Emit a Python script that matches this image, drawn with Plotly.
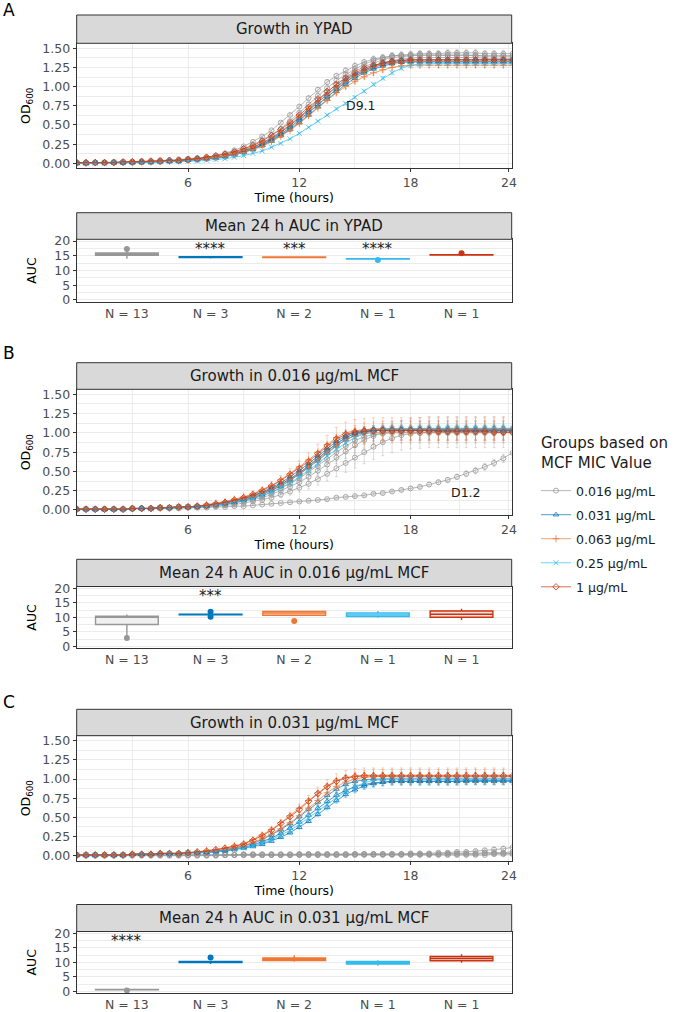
import plotly.graph_objects as go

W, H = 675, 1012

GROUPS = ["0.016 µg/mL", "0.031 µg/mL", "0.063 µg/mL", "0.25 µg/mL", "1 µg/mL"]
COLORS = ["#979797", "#0077BB", "#EE7733", "#33BBEE", "#CC3311"]
SYMBOLS = ["circle-open", "triangle-up-open", "cross-thin-open", "x-thin-open", "diamond-open"]
N_LABELS = ["N = 13", "N = 3", "N = 2", "N = 1", "N = 1"]
LEGEND_TITLE = "Groups based on<br>MCF MIC Value"

TIME = [0, 0.5, 1, 1.5, 2, 2.5, 3, 3.5, 4, 4.5, 5, 5.5, 6, 6.5, 7, 7.5, 8, 8.5, 9, 9.5,
        10, 10.5, 11, 11.5, 12, 12.5, 13, 13.5, 14, 14.5, 15, 15.5, 16, 16.5, 17, 17.5,
        18, 18.5, 19, 19.5, 20, 20.5, 21, 21.5, 22, 22.5, 23, 23.5]
X_TICKS = [6, 12, 18, 23.3]
X_TICKTEXT = ["6", "12", "18", "24"]

# ---------------- Panel A: YPAD growth ----------------
A_g1 = [0.01, 0.01, 0.01, 0.01, 0.01, 0.01, 0.02, 0.02, 0.02, 0.03, 0.03, 0.04, 0.05,
        0.06, 0.07, 0.09, 0.12, 0.15, 0.19, 0.24, 0.30, 0.37, 0.45, 0.55, 0.66, 0.77, 0.88, 0.98, 1.08, 1.16, 1.23, 1.29, 1.34, 1.37, 1.40, 1.41, 1.42,
        1.43, 1.43, 1.43, 1.44, 1.44, 1.44, 1.44, 1.43, 1.43, 1.43, 1.43]
A_g2 = [0.01, 0.01, 0.01, 0.01, 0.01, 0.01, 0.02, 0.02, 0.02, 0.03, 0.03, 0.04, 0.05,
        0.06, 0.07, 0.08, 0.10, 0.13, 0.17, 0.21, 0.27, 0.33, 0.41, 0.50, 0.60, 0.71, 0.82, 0.93, 1.03, 1.12, 1.20, 1.26, 1.31, 1.35, 1.38, 1.39, 1.40,
        1.41, 1.41, 1.41, 1.41, 1.41, 1.41, 1.40, 1.40, 1.40, 1.40, 1.40]
A_g3 = [0.00, 0.00, 0.01, 0.01, 0.01, 0.01, 0.01, 0.02, 0.02, 0.02, 0.03, 0.03, 0.04,
        0.05, 0.06, 0.08, 0.09, 0.12, 0.15, 0.19, 0.24, 0.30, 0.37, 0.45, 0.55, 0.65, 0.76, 0.87, 0.97, 1.06, 1.14, 1.21, 1.27, 1.31, 1.34, 1.36, 1.37,
        1.38, 1.38, 1.38, 1.38, 1.38, 1.38, 1.38, 1.37, 1.37, 1.37, 1.37]
A_g4 = [0.01, 0.01, 0.01, 0.01, 0.02, 0.02, 0.02, 0.03, 0.03, 0.04, 0.04, 0.05, 0.06,
        0.07, 0.08, 0.10, 0.13, 0.17, 0.22, 0.28, 0.35, 0.43, 0.53, 0.63, 0.74, 0.85, 0.96, 1.06, 1.14, 1.21, 1.27, 1.32, 1.36, 1.38, 1.40, 1.41, 1.41,
        1.41, 1.41, 1.41, 1.41, 1.41, 1.41, 1.41, 1.40, 1.40, 1.40, 1.40]
A_b1 = [0.00, 0.00, 0.01, 0.01, 0.01, 0.01, 0.01, 0.02, 0.02, 0.02, 0.03, 0.03, 0.04,
        0.05, 0.06, 0.07, 0.09, 0.11, 0.14, 0.18, 0.23, 0.29, 0.36, 0.44, 0.53, 0.63, 0.74, 0.84, 0.94, 1.03, 1.11, 1.18, 1.23, 1.27, 1.30, 1.32, 1.33,
        1.33, 1.33, 1.33, 1.33, 1.33, 1.33, 1.33, 1.33, 1.33, 1.33, 1.33]
A_b2 = [0.01, 0.01, 0.01, 0.01, 0.01, 0.01, 0.02, 0.02, 0.02, 0.03, 0.03, 0.04, 0.05,
        0.06, 0.07, 0.08, 0.10, 0.13, 0.16, 0.20, 0.26, 0.32, 0.40, 0.49, 0.59, 0.69, 0.80, 0.90, 1.00, 1.09, 1.16, 1.22, 1.27, 1.31, 1.33, 1.34, 1.35,
        1.35, 1.35, 1.35, 1.35, 1.35, 1.35, 1.35, 1.35, 1.35, 1.35, 1.35]
A_b3 = [0.00, 0.00, 0.01, 0.01, 0.01, 0.01, 0.01, 0.02, 0.02, 0.02, 0.03, 0.03, 0.04,
        0.05, 0.06, 0.07, 0.09, 0.12, 0.15, 0.19, 0.24, 0.31, 0.38, 0.47, 0.57, 0.67, 0.77, 0.87, 0.97, 1.06, 1.14, 1.20, 1.25, 1.29, 1.31, 1.32, 1.32,
        1.32, 1.32, 1.32, 1.32, 1.32, 1.32, 1.32, 1.32, 1.32, 1.32, 1.32]
A_o1 = [0.00, 0.00, 0.01, 0.01, 0.01, 0.01, 0.01, 0.02, 0.02, 0.02, 0.03, 0.03, 0.04,
        0.05, 0.06, 0.07, 0.09, 0.11, 0.14, 0.18, 0.22, 0.28, 0.35, 0.43, 0.52, 0.62, 0.72, 0.82, 0.92, 1.00, 1.07, 1.13, 1.18, 1.22, 1.25, 1.27, 1.28,
        1.28, 1.28, 1.28, 1.28, 1.28, 1.28, 1.28, 1.28, 1.28, 1.28, 1.28]
A_o2 = [0.01, 0.01, 0.01, 0.01, 0.01, 0.01, 0.02, 0.02, 0.02, 0.03, 0.03, 0.04, 0.05,
        0.06, 0.07, 0.08, 0.10, 0.13, 0.17, 0.21, 0.27, 0.33, 0.41, 0.50, 0.60, 0.70, 0.80, 0.90, 0.99, 1.07, 1.14, 1.20, 1.25, 1.29, 1.31, 1.32, 1.33,
        1.33, 1.33, 1.33, 1.33, 1.33, 1.33, 1.33, 1.33, 1.33, 1.33, 1.33]
A_lb = [0.00, 0.00, 0.00, 0.00, 0.01, 0.01, 0.01, 0.01, 0.01, 0.02, 0.02, 0.02, 0.03,
        0.03, 0.04, 0.05, 0.06, 0.08, 0.10, 0.13, 0.16, 0.21, 0.26, 0.32, 0.39, 0.47, 0.55, 0.63, 0.71, 0.78, 0.86, 0.94, 1.03, 1.11, 1.18, 1.24, 1.28,
        1.29, 1.30, 1.30, 1.30, 1.30, 1.30, 1.30, 1.30, 1.30, 1.30, 1.30]
A_r = [0.01, 0.01, 0.01, 0.01, 0.01, 0.02, 0.02, 0.02, 0.03, 0.03, 0.04, 0.04, 0.05,
       0.06, 0.08, 0.10, 0.12, 0.15, 0.19, 0.23, 0.29, 0.36, 0.44, 0.53, 0.63, 0.73, 0.84, 0.94, 1.03, 1.11, 1.18, 1.24, 1.28, 1.31, 1.33, 1.34, 1.35,
       1.35, 1.35, 1.35, 1.35, 1.35, 1.35, 1.35, 1.35, 1.35, 1.35, 1.35]

# ---------------- Panel B: 0.016 ug/mL MCF growth ----------------
B_g1 = [0.01, 0.01, 0.01, 0.01, 0.01, 0.01, 0.02, 0.02, 0.02, 0.03, 0.03, 0.04, 0.04,
        0.05, 0.06, 0.07, 0.09, 0.11, 0.14, 0.17, 0.21, 0.27, 0.33, 0.40, 0.48, 0.57, 0.67, 0.77, 0.86, 0.94, 0.99, 1.02, 1.04, 1.05, 1.05, 1.05, 1.05,
        1.05, 1.05, 1.05, 1.05, 1.05, 1.05, 1.05, 1.05, 1.05, 1.05, 1.05]
B_g2 = [0.01, 0.01, 0.01, 0.01, 0.01, 0.01, 0.02, 0.02, 0.02, 0.03, 0.03, 0.04, 0.04,
        0.04, 0.05, 0.06, 0.07, 0.09, 0.11, 0.13, 0.16, 0.20, 0.25, 0.30, 0.36, 0.43, 0.51, 0.59, 0.68, 0.76, 0.84, 0.91, 0.96, 1.00, 1.02, 1.03, 1.03,
        1.03, 1.03, 1.03, 1.03, 1.03, 1.03, 1.03, 1.03, 1.03, 1.03, 1.03]
B_g3 = [0.01, 0.01, 0.01, 0.01, 0.01, 0.01, 0.02, 0.02, 0.02, 0.03, 0.03, 0.03, 0.04,
        0.04, 0.04, 0.05, 0.06, 0.07, 0.09, 0.11, 0.13, 0.16, 0.20, 0.24, 0.29, 0.34, 0.40, 0.47, 0.54, 0.61, 0.68, 0.75, 0.82, 0.88, 0.93, 0.97, 0.99,
        1.00, 1.01, 1.01, 1.01, 1.01, 1.01, 1.01, 1.01, 1.01, 1.01, 1.01]
B_g4 = [0.01, 0.01, 0.01, 0.01, 0.01, 0.01, 0.02, 0.02, 0.02, 0.03, 0.03, 0.04, 0.04,
        0.04, 0.05, 0.06, 0.08, 0.10, 0.12, 0.15, 0.18, 0.23, 0.28, 0.34, 0.41, 0.49, 0.57, 0.66, 0.75, 0.83, 0.90, 0.95, 0.98, 0.99, 1.00, 1.00, 1.00,
        1.00, 1.00, 1.00, 1.00, 1.00, 1.00, 1.00, 1.00, 1.00, 1.00, 1.00]
B_d12 = [0.01, 0.01, 0.01, 0.01, 0.01, 0.01, 0.01, 0.02, 0.02, 0.02, 0.02, 0.02, 0.03,
         0.03, 0.03, 0.04, 0.04, 0.05, 0.05, 0.06, 0.07, 0.08, 0.09, 0.10, 0.11, 0.12, 0.13, 0.14, 0.16, 0.17, 0.18, 0.19, 0.21, 0.22, 0.24, 0.26, 0.28,
         0.30, 0.33, 0.36, 0.39, 0.43, 0.47, 0.51, 0.56, 0.61, 0.67, 0.74]
B_b1 = [0.01, 0.01, 0.01, 0.01, 0.01, 0.01, 0.02, 0.02, 0.02, 0.03, 0.03, 0.04, 0.04,
        0.05, 0.06, 0.08, 0.10, 0.12, 0.15, 0.19, 0.23, 0.29, 0.35, 0.43, 0.51, 0.60, 0.70, 0.80, 0.89, 0.96, 1.01, 1.04, 1.05, 1.05, 1.05, 1.05, 1.05,
        1.05, 1.05, 1.05, 1.05, 1.05, 1.05, 1.05, 1.05, 1.05, 1.05, 1.05]
B_b2 = [0.01, 0.01, 0.01, 0.01, 0.01, 0.01, 0.02, 0.02, 0.02, 0.03, 0.03, 0.04, 0.04,
        0.04, 0.05, 0.07, 0.08, 0.10, 0.13, 0.16, 0.20, 0.25, 0.31, 0.38, 0.46, 0.55, 0.64, 0.74, 0.83, 0.91, 0.97, 1.01, 1.03, 1.04, 1.04, 1.04, 1.04,
        1.04, 1.04, 1.04, 1.04, 1.04, 1.04, 1.04, 1.04, 1.04, 1.04, 1.04]
B_b3 = [0.01, 0.01, 0.01, 0.01, 0.01, 0.01, 0.02, 0.02, 0.02, 0.03, 0.03, 0.04, 0.04,
        0.05, 0.06, 0.07, 0.09, 0.12, 0.14, 0.18, 0.22, 0.27, 0.33, 0.40, 0.48, 0.57, 0.67, 0.77, 0.86, 0.94, 0.99, 1.02, 1.03, 1.03, 1.03, 1.03, 1.03,
        1.03, 1.03, 1.03, 1.03, 1.03, 1.03, 1.03, 1.03, 1.03, 1.03, 1.03]
B_o1 = [0.01, 0.01, 0.01, 0.01, 0.01, 0.01, 0.02, 0.02, 0.02, 0.03, 0.03, 0.04, 0.04,
        0.05, 0.07, 0.09, 0.11, 0.14, 0.17, 0.21, 0.26, 0.32, 0.39, 0.47, 0.56, 0.65, 0.75, 0.85, 0.94, 1.00, 1.03, 1.04, 1.05, 1.05, 1.05, 1.05, 1.05,
        1.05, 1.05, 1.05, 1.05, 1.05, 1.05, 1.05, 1.05, 1.05, 1.05, 1.05]
B_o2 = [0.01, 0.01, 0.01, 0.01, 0.01, 0.01, 0.02, 0.02, 0.02, 0.03, 0.03, 0.04, 0.04,
        0.05, 0.06, 0.07, 0.09, 0.11, 0.14, 0.17, 0.21, 0.26, 0.32, 0.39, 0.47, 0.56, 0.65, 0.75, 0.84, 0.91, 0.96, 0.99, 1.00, 1.01, 1.01, 1.01, 1.01,
        1.01, 1.01, 1.01, 1.01, 1.01, 1.01, 1.01, 1.01, 1.01, 1.01, 1.01]
B_lb = [0.01, 0.01, 0.01, 0.01, 0.01, 0.01, 0.02, 0.02, 0.02, 0.03, 0.03, 0.04, 0.04,
        0.04, 0.05, 0.06, 0.08, 0.10, 0.12, 0.15, 0.19, 0.23, 0.29, 0.35, 0.43, 0.51, 0.60, 0.70, 0.79, 0.87, 0.94, 0.99, 1.02, 1.04, 1.05, 1.05, 1.05,
        1.06, 1.06, 1.06, 1.06, 1.06, 1.06, 1.06, 1.06, 1.06, 1.06, 1.06]
B_r = [0.01, 0.01, 0.01, 0.01, 0.01, 0.01, 0.02, 0.02, 0.02, 0.03, 0.03, 0.04, 0.04,
       0.05, 0.06, 0.08, 0.10, 0.13, 0.16, 0.20, 0.25, 0.31, 0.38, 0.46, 0.54, 0.63, 0.73, 0.83, 0.92, 0.98, 1.01, 1.02, 1.03, 1.03, 1.03, 1.03, 1.03,
       1.03, 1.03, 1.02, 1.02, 1.02, 1.02, 1.02, 1.02, 1.01, 1.01, 1.01]

# ---------------- Panel C: 0.031 ug/mL MCF growth ----------------
C_g1 = [0.01, 0.01, 0.01, 0.01, 0.01, 0.01, 0.01, 0.01, 0.01, 0.01, 0.01, 0.01, 0.01,
        0.01, 0.01, 0.01, 0.01, 0.01, 0.02, 0.02, 0.02, 0.02, 0.02, 0.02, 0.02, 0.02, 0.02, 0.02, 0.02, 0.02, 0.02, 0.02, 0.02, 0.02, 0.02, 0.02, 0.02,
        0.02, 0.02, 0.02, 0.02, 0.02, 0.02, 0.02, 0.03, 0.03, 0.03, 0.03]
C_g2 = [0.00, 0.00, 0.00, 0.00, 0.00, 0.00, 0.00, 0.00, 0.00, 0.00, 0.00, 0.00, 0.00,
        0.00, 0.00, 0.00, 0.01, 0.01, 0.01, 0.01, 0.01, 0.01, 0.01, 0.01, 0.01, 0.01, 0.01, 0.01, 0.01, 0.01, 0.01, 0.01, 0.01, 0.01, 0.01, 0.01, 0.01,
        0.01, 0.01, 0.01, 0.01, 0.01, 0.01, 0.01, 0.01, 0.02, 0.02, 0.02]
C_g3 = [0.01, 0.01, 0.01, 0.01, 0.01, 0.01, 0.01, 0.01, 0.01, 0.01, 0.01, 0.01, 0.01,
        0.01, 0.01, 0.01, 0.01, 0.01, 0.01, 0.01, 0.01, 0.01, 0.01, 0.01, 0.01, 0.01, 0.01, 0.01, 0.01, 0.01, 0.02, 0.02, 0.02, 0.02, 0.02, 0.02, 0.03,
        0.03, 0.03, 0.04, 0.04, 0.05, 0.05, 0.06, 0.07, 0.08, 0.09, 0.11]
C_g4 = [0.01, 0.01, 0.01, 0.01, 0.01, 0.01, 0.01, 0.01, 0.01, 0.01, 0.01, 0.01, 0.01,
        0.01, 0.01, 0.01, 0.01, 0.01, 0.01, 0.01, 0.01, 0.01, 0.01, 0.01, 0.02, 0.02, 0.02, 0.02, 0.02, 0.02, 0.02, 0.02, 0.02, 0.02, 0.02, 0.02, 0.02,
        0.02, 0.02, 0.02, 0.03, 0.03, 0.03, 0.03, 0.04, 0.04, 0.04, 0.05]
C_b1 = [0.01, 0.01, 0.01, 0.01, 0.01, 0.01, 0.02, 0.02, 0.02, 0.03, 0.03, 0.03, 0.04,
        0.04, 0.05, 0.06, 0.07, 0.09, 0.11, 0.14, 0.18, 0.23, 0.29, 0.36, 0.44, 0.53, 0.62, 0.71, 0.79, 0.85, 0.90, 0.93, 0.95, 0.96, 0.97, 0.97, 0.97,
        0.97, 0.97, 0.97, 0.97, 0.97, 0.98, 0.98, 0.98, 0.98, 0.98, 0.98]
C_b2 = [0.01, 0.01, 0.01, 0.01, 0.01, 0.01, 0.02, 0.02, 0.02, 0.03, 0.03, 0.03, 0.04,
        0.04, 0.05, 0.06, 0.08, 0.10, 0.13, 0.16, 0.21, 0.27, 0.34, 0.42, 0.51, 0.61, 0.70, 0.79, 0.87, 0.93, 0.97, 0.99, 1.00, 1.00, 1.00, 1.00, 1.00,
        1.00, 1.00, 1.00, 1.00, 1.00, 1.00, 1.00, 1.00, 1.00, 1.00, 1.00]
C_b3 = [0.01, 0.01, 0.01, 0.01, 0.01, 0.01, 0.02, 0.02, 0.02, 0.03, 0.03, 0.03, 0.04,
        0.04, 0.04, 0.05, 0.06, 0.08, 0.10, 0.12, 0.15, 0.19, 0.24, 0.30, 0.37, 0.45, 0.54, 0.63, 0.72, 0.80, 0.86, 0.91, 0.94, 0.96, 0.97, 0.97, 0.97,
        0.97, 0.97, 0.97, 0.97, 0.97, 0.97, 0.97, 0.97, 0.97, 0.97, 0.97]
C_o1 = [0.01, 0.01, 0.01, 0.01, 0.01, 0.01, 0.02, 0.02, 0.02, 0.03, 0.03, 0.03, 0.04,
        0.05, 0.07, 0.08, 0.10, 0.13, 0.16, 0.21, 0.27, 0.34, 0.43, 0.52, 0.62, 0.72, 0.82, 0.91, 0.98, 1.02, 1.04, 1.05, 1.05, 1.05, 1.05, 1.05, 1.05,
        1.05, 1.05, 1.05, 1.05, 1.05, 1.05, 1.05, 1.05, 1.05, 1.05, 1.05]
C_o2 = [0.01, 0.01, 0.01, 0.01, 0.01, 0.01, 0.02, 0.02, 0.02, 0.03, 0.03, 0.03, 0.04,
        0.04, 0.05, 0.07, 0.08, 0.10, 0.13, 0.17, 0.22, 0.28, 0.35, 0.43, 0.52, 0.62, 0.72, 0.82, 0.90, 0.96, 1.00, 1.02, 1.03, 1.03, 1.03, 1.03, 1.03,
        1.03, 1.03, 1.03, 1.03, 1.03, 1.03, 1.03, 1.03, 1.03, 1.03, 1.03]
C_lb = [0.01, 0.01, 0.01, 0.01, 0.01, 0.01, 0.02, 0.02, 0.02, 0.03, 0.03, 0.03, 0.04,
        0.04, 0.04, 0.05, 0.07, 0.08, 0.10, 0.13, 0.17, 0.21, 0.27, 0.33, 0.41, 0.49, 0.58, 0.67, 0.76, 0.84, 0.90, 0.95, 0.98, 1.00, 1.01, 1.01, 1.01,
        1.01, 1.01, 1.01, 1.01, 1.01, 1.01, 1.01, 1.01, 1.01, 1.01, 1.01]
C_r = [0.01, 0.01, 0.01, 0.01, 0.01, 0.01, 0.02, 0.02, 0.02, 0.03, 0.03, 0.03, 0.04,
       0.05, 0.06, 0.08, 0.10, 0.12, 0.15, 0.20, 0.26, 0.33, 0.42, 0.51, 0.60, 0.71, 0.81, 0.90, 0.97, 1.01, 1.03, 1.04, 1.04, 1.04, 1.04, 1.04, 1.04,
       1.04, 1.04, 1.04, 1.04, 1.04, 1.04, 1.04, 1.04, 1.04, 1.04, 1.04]

# error bar size (SD, % of OD) per curve
ERR_A = [3, 3, 3, 3, 2, 2, 2, 2.5, 2.5, 2, 2]
ERR_B = [5, 12, 20, 9, 8, 4, 4, 4, 14, 14, 5, 4]
ERR_C = [40, 40, 40, 40, 5, 5, 5, 9, 9, 8, 4]

# ---------------- AUC values (per replicate) ----------------
AUC_A = [
    [14.0, 14.3, 14.7, 15.3, 15.4, 15.5, 15.5, 15.6, 15.6, 15.7, 16.6, 17.0, 17.3],
    [14.1, 14.4, 14.5, 14.6, 14.7, 14.8],
    [14.3, 14.4, 14.5, 14.6, 14.7, 14.5],
    [13.9, 13.95, 14.0, 14.0, 14.05, 14.1, 13.6],
    [15.2, 15.25, 15.3, 15.3, 15.35, 15.4, 15.9],
]
AUC_B = [
    [2.9, 3.5, 7.1, 7.7, 8.5, 9.5, 10.0, 10.2, 10.3, 10.4, 10.5, 10.6, 11.0],
    [10.9, 11.0, 11.0, 11.1, 11.0, 11.9, 10.2],
    [10.6, 10.9, 11.3, 11.6, 11.9, 12.1, 12.3, 8.8],
    [9.9, 10.2, 10.5, 10.8, 11.3, 11.6, 12.2],
    [9.1, 9.8, 10.3, 10.9, 11.3, 11.9, 12.5, 13.0],
]
AUC_C = [
    [0.3, 0.4, 0.5, 0.5, 0.5, 0.6, 0.6, 0.6, 0.7, 0.7, 0.8, 0.5, 0.6],
    [9.4, 9.9, 10.0, 10.1, 10.2, 10.3, 11.6],
    [10.2, 10.5, 10.8, 11.0, 11.3, 11.5, 12.4],
    [8.8, 9.4, 9.7, 10.0, 10.3, 10.7],
    [9.8, 10.4, 10.9, 11.3, 11.7, 12.1, 12.8],
]
STARS_A = ["", "****", "***", "****", ""]
STARS_B = ["", "***", "", "", ""]
STARS_C = ["****", "", "", "", ""]

CURVES_A = [(0, A_g1), (0, A_g2), (0, A_g3), (0, A_g4), (1, A_b1), (1, A_b2), (1, A_b3),
            (2, A_o1), (2, A_o2), (3, A_lb), (4, A_r)]
CURVES_B = [(0, B_g1), (0, B_g2), (0, B_g3), (0, B_g4), (0, B_d12), (1, B_b1), (1, B_b2), (1, B_b3),
            (2, B_o1), (2, B_o2), (3, B_lb), (4, B_r)]
CURVES_C = [(0, C_g1), (0, C_g2), (0, C_g3), (0, C_g4), (1, C_b1), (1, C_b2), (1, C_b3),
            (2, C_o1), (2, C_o2), (3, C_lb), (4, C_r)]

FONT = "DejaVu Sans"
GRID = "#EBEBEB"
FRAME = "#333333"
TICKCOL = "#4D4D4D"


def rgba(hexc, a):
    h = hexc.lstrip("#")
    return "rgba(%d,%d,%d,%.2f)" % (int(h[0:2], 16), int(h[2:4], 16), int(h[4:6], 16), a)


def xdom(p0, p1):
    return [p0 / W, p1 / W]


def ydom(top, bottom):
    return [1 - bottom / H, 1 - top / H]


fig = go.Figure()

X_L, X_R = 76.7, 511.7
PANELS = [
    ("A", CURVES_A, ERR_A, AUC_A, STARS_A, (15.0, 43.3), (212.7, 239.3), (43.3, 168.3), (239.3, 301.7),
     "Growth in YPAD", "Mean 24 h AUC in YPAD", 10.5),
    ("B", CURVES_B, ERR_B, AUC_B, STARS_B, (362.7, 389.3), (559.3, 586.5), (389.3, 515.0), (586.5, 648.3),
     "Growth in 0.016 µg/mL MCF", "Mean 24 h AUC in 0.016 µg/mL MCF", 353),
    ("C", CURVES_C, ERR_C, AUC_C, STARS_C, (709.3, 735.7), (904.5, 931.5), (735.7, 860.7), (931.5, 993.0),
     "Growth in 0.031 µg/mL MCF", "Mean 24 h AUC in 0.031 µg/mL MCF", 702),
]

shapes = []
annotations = []
layout_axes = {}

for pi, (letter, curves, errs, auc, stars, sg, sa, gd, ad, tg, ta, ly) in enumerate(PANELS):
    gx = 2 * pi + 1
    ax = 2 * pi + 2
    gxn = "x" if gx == 1 else "x%d" % gx
    gyn = "y" if gx == 1 else "y%d" % gx
    axn = "x%d" % ax
    ayn = "y%d" % ax

    seen = set()
    for ci, (gi, vals) in enumerate(curves):
        c = COLORS[gi]
        fig.add_trace(go.Scatter(
            x=TIME, y=vals, mode="lines+markers", name=GROUPS[gi], legendgroup=GROUPS[gi],
            showlegend=(pi == 0 and gi not in seen),
            line=dict(color=c, width=0.7),
            marker=dict(symbol=SYMBOLS[gi], size=5, color=c, line=dict(width=0.8, color=c)),
            error_y=dict(type="percent", value=errs[ci], color=rgba(c, 0.45), thickness=0.7, width=1.5),
            xaxis=gxn, yaxis=gyn, hoverinfo="skip"))
        seen.add(gi)

    for gi, vals in enumerate(auc):
        c = COLORS[gi]
        fig.add_trace(go.Box(
            y=vals, x0=gi, width=0.75, line=dict(color=c, width=1.4), fillcolor=rgba(c, 0.15),
            boxpoints="outliers", marker=dict(color=c, size=6), whiskerwidth=0,
            xaxis=axn, yaxis=ayn, showlegend=False, hoverinfo="skip"))
        if stars[gi]:
            annotations.append(dict(x=gi, y=17.2, xref=axn, yref=ayn, text=stars[gi], showarrow=False,
                                    font=dict(family=FONT, size=15, color="#222222"), yanchor="middle"))

    common_tick = dict(ticks="outside", ticklen=3, tickcolor=FRAME, tickwidth=1,
                       tickfont=dict(family=FONT, size=12.5, color=TICKCOL),
                       showline=True, mirror=True, linecolor=FRAME, linewidth=1, zeroline=False,
                       automargin=False)
    auc_x_tick = dict(common_tick)
    auc_x_tick["ticks"] = ""

    layout_axes["xaxis" if gx == 1 else "xaxis%d" % gx] = dict(
        domain=xdom(X_L, X_R), anchor=gyn, range=[0, 23.45],
        tickmode="array", tickvals=X_TICKS, ticktext=X_TICKTEXT,
        showgrid=True, gridcolor=GRID, gridwidth=1,
        minor=dict(tickvals=[3, 9, 15, 20.65], showgrid=True, gridcolor=GRID, gridwidth=0.5, ticks=""),
        title=dict(text="Time (hours)", font=dict(family=FONT, size=12.5, color="#000000"), standoff=3),
        **common_tick)
    layout_axes["yaxis" if gx == 1 else "yaxis%d" % gx] = dict(
        domain=ydom(*gd), anchor=gxn, range=[-0.065, 1.565],
        tickmode="array", tickvals=[0, 0.25, 0.5, 0.75, 1.0, 1.25, 1.5],
        ticktext=["0.00", "0.25", "0.50", "0.75", "1.00", "1.25", "1.50"],
        showgrid=True, gridcolor=GRID, gridwidth=1,
        minor=dict(tickvals=[0.125, 0.375, 0.625, 0.875, 1.125, 1.375], showgrid=True,
                   gridcolor=GRID, gridwidth=0.5, ticks=""),
        title=dict(text="OD<sub>600</sub>", font=dict(family=FONT, size=12.5, color="#000000"), standoff=8),
        **common_tick)
    layout_axes["xaxis%d" % ax] = dict(
        domain=xdom(X_L, X_R), anchor=ayn, range=[-0.6, 4.6],
        tickmode="array", tickvals=[0, 1, 2, 3, 4], ticktext=N_LABELS, showgrid=False,
        **auc_x_tick)
    layout_axes["yaxis%d" % ax] = dict(
        domain=ydom(*ad), anchor=axn, range=[-0.6, 20.6],
        tickmode="array", tickvals=[0, 5, 10, 15, 20], ticktext=["0", "5", "10", "15", "20"],
        showgrid=True, gridcolor=GRID, gridwidth=1,
        minor=dict(tickvals=[2.5, 7.5, 12.5, 17.5], showgrid=True, gridcolor=GRID, gridwidth=0.5, ticks=""),
        title=dict(text="AUC", font=dict(family=FONT, size=12.5, color="#000000"), standoff=14),
        **common_tick)

    for (t, b), txt in ((sg, tg), (sa, ta)):
        shapes.append(dict(type="rect", xref="paper", yref="paper", x0=X_L / W, x1=X_R / W,
                           y0=1 - b / H, y1=1 - t / H, fillcolor="#D9D9D9",
                           line=dict(color=FRAME, width=1), layer="above"))
        annotations.append(dict(x=(X_L + X_R) / 2 / W, y=1 - (t + b) / 2 / H, xref="paper", yref="paper",
                                text=txt, showarrow=False, xanchor="center", yanchor="middle",
                                font=dict(family=FONT, size=15, color="#1A1A1A")))
    annotations.append(dict(x=1 / W, y=1 - ly / H, xref="paper", yref="paper", text=letter,
                            showarrow=False, xanchor="left", yanchor="middle",
                            font=dict(family=FONT, size=17, color="#000000")))

annotations.append(dict(x=15.33, y=0.75, xref="x", yref="y", text="D9.1", showarrow=False,
                        font=dict(family=FONT, size=12.5, color="#1A1A1A")))
annotations.append(dict(x=20.96, y=0.23, xref="x3", yref="y3", text="D1.2", showarrow=False,
                        font=dict(family=FONT, size=12.5, color="#1A1A1A")))
# legend title
annotations.append(dict(x=539 / W, y=1 - 453 / H, xref="paper", yref="paper", text=LEGEND_TITLE,
                        showarrow=False, xanchor="left", yanchor="middle", align="left",
                        font=dict(family=FONT, size=15, color="#1A1A1A")))

fig.update_layout(
    template="none",
    width=W, height=H, margin=dict(l=0, r=0, t=0, b=0, pad=0, autoexpand=False),
    paper_bgcolor="white", plot_bgcolor="white",
    font=dict(family=FONT, size=12.5, color="#000000"),
    shapes=shapes, annotations=annotations,
    boxmode="overlay",
    legend=dict(x=536 / W, y=1 - 476 / H, xanchor="left", yanchor="top",
                font=dict(family=FONT, size=12.5, color="#1A1A1A"), itemwidth=30,
                traceorder="grouped", tracegroupgap=4.8, bgcolor="rgba(0,0,0,0)", borderwidth=0),
    **layout_axes)

fig.write_html("out.html", config={"displayModeBar": False},
               post_script="document.body.style.margin='0';document.body.style.padding='0';"
                           "document.documentElement.style.overflow='hidden';")
